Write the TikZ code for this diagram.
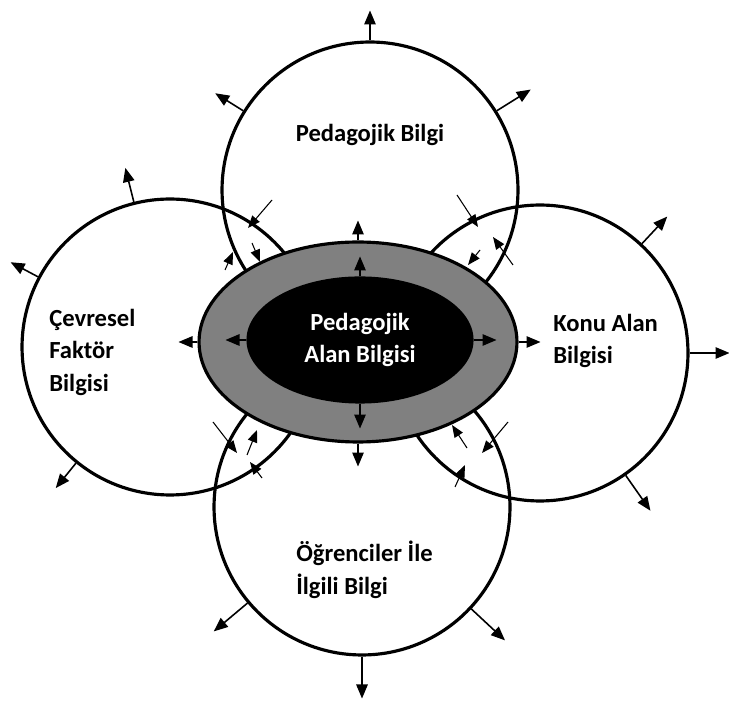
\documentclass[tikz,border=0pt]{standalone}
\usepackage{fontspec}
\setmainfont{Carlito}
\usetikzlibrary{shapes.geometric,arrows.meta}

\begin{document}
\begin{tikzpicture}[x=0.02cm,y=0.02cm,
    halka/.style={circle,draw,line width=1.8pt,minimum size=5.92cm,inner sep=0pt},
    ok/.style={-{Triangle[length=8pt,width=6.5pt]},line width=0.9pt},
    ince/.style={-{Triangle[length=7pt,width=5.5pt]},line width=0.6pt},
    yazi/.style={font=\bfseries\fontsize{14}{18.5}\selectfont,align=left,inner sep=0pt}]
    \useasboundingbox (0,0) rectangle (729,709);
    \node[halka] (pb) at (370,519) {};
    \node[halka] (cfb) at (170,362) {};
    \node[halka] (kab) at (540,356) {};
    \node[halka] (oib) at (362,202) {};
    \node[yazi] (pbt) at (370,574) {Pedagojik Bilgi};
    \node[yazi,anchor=west] (cfbt) at (49,357) {Çevresel\\Faktör\\Bilgisi};
    \node[yazi,anchor=west] (kabt) at (553,368) {Konu Alan\\Bilgisi};
    \node[yazi,anchor=west] (oibt) at (296,139) {Öğrenciler İle\\İlgili Bilgi};
    \foreach \k/\a/\l in {pb/90/30,pb/148/33,pb/32/40,cfb/104/35,cfb/152/31,cfb/231/32,kab/47/37,kab/0/40,kab/305/43,oib/220/44,oib/317/46,oib/270/42}
        \draw[ok] (\k.\a) -- ++(\a:\l);
    \node[ellipse,draw,line width=1.8pt,fill=gray,minimum width=6.36cm,minimum height=4cm] (dis) at (358,367) {};
    \node[ellipse,draw,line width=1.8pt,fill=black,text=white,align=center,minimum width=4.48cm,minimum height=2.48cm,font=\bfseries\fontsize{14}{18.5}\selectfont] (pab) at (360,369) {Pedagojik\\Alan Bilgisi};
    \foreach \e/\x/\y in {pab.north/0/20,dis.north/0/20,pab.south/0/-25,dis.south/0/-23,pab.west/-21/0,dis.west/-19/0,pab.east/23/0,dis.east/22/0}
        \draw[ok] (\e) -- ++(\x,\y);
    \foreach \xa/\ya/\xb/\yb in {272/509/248/481,225/439/233/457,252/466/260/447,
        457/514/478/482,513/444/493/472,480/459/468/444,
        213/287/237/256,262/231/250/247,247/254/257/279,
        508/287/482/256,455/222/465/244,467/261/452/284}
        \draw[ince] (\xa,\ya) -- (\xb,\yb);
\end{tikzpicture}
\end{document}
